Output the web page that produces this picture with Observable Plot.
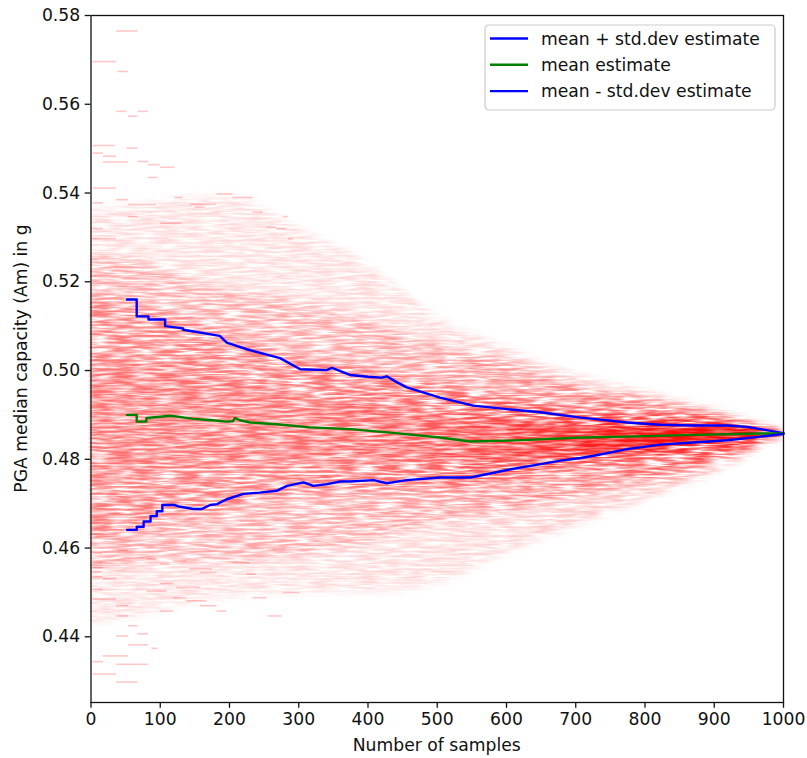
<!DOCTYPE html>
<html><head><meta charset="utf-8">
<script src="https://cdn.jsdelivr.net/npm/d3@7"></script>
<script src="https://cdn.jsdelivr.net/npm/@observablehq/plot@0.6"></script>
<style>body{margin:0;background:#fff} svg{display:block}</style>
</head><body><div id="chart"></div>
<script>
// ---- series ----
const upperN = [52,66,66,83,83,107,107,133,133,186,196,225,273,302,340,348,374,400,420,427,440,456,504,552,601,649,707,726,774,822,870,919,947,967,1000];
const upperV = [0.5160,0.5160,0.5122,0.5122,0.5115,0.5115,0.5100,0.5095,0.5092,0.5078,0.5063,0.5048,0.5028,0.5003,0.5001,0.5006,0.4990,0.4986,0.4984,0.4987,0.4975,0.4962,0.4939,0.4921,0.4913,0.4906,0.4894,0.4891,0.4883,0.4878,0.4876,0.4876,0.4873,0.4868,0.4859];
const meanN = [52,66,66,80,80,100,114,130,148,175,196,205,208,215,230,268,316,374,432,504,548,601,649,707,774,870,967,1000];
const meanV = [0.4900,0.4900,0.4885,0.4885,0.4893,0.4896,0.4898,0.4895,0.4891,0.4888,0.4885,0.4886,0.4893,0.4888,0.4883,0.4879,0.4872,0.4868,0.4860,0.4849,0.4840,0.4842,0.4845,0.4849,0.4851,0.4855,0.4858,0.4858];
const lowerN = [52,66,66,76,76,86,86,95,95,103,103,120,129,148,160,172,182,196,220,244,268,283,307,321,341,360,374,408,427,456,504,548,601,649,678,707,726,774,822,870,919,967,1000];
const lowerV = [0.4641,0.4641,0.4648,0.4648,0.4660,0.4660,0.4672,0.4672,0.4683,0.4683,0.4697,0.4697,0.4693,0.4688,0.4688,0.4697,0.4699,0.4710,0.4722,0.4725,0.4729,0.4740,0.4748,0.4740,0.4744,0.4750,0.4750,0.4753,0.4746,0.4753,0.4759,0.4759,0.4776,0.4789,0.4797,0.4803,0.4808,0.4823,0.4833,0.4838,0.4843,0.4851,0.4857];

// sample-trace cloud, read as nested envelopes
const bandN   = [0,50,100,150,200,300,400,500,600,700,800,900,1000];
const outerHi = [0.536,0.537,0.538,0.539,0.539,0.532,0.524,0.512,0.505,0.499,0.495,0.491,0.4858];
const outerLo = [0.443,0.444,0.446,0.448,0.449,0.450,0.450,0.452,0.459,0.465,0.471,0.477,0.4857];
const wideHi  = [0.526,0.525,0.5225,0.520,0.518,0.5157,0.511,0.5056,0.502,0.4966,0.4932,0.4898,0.4858];
const wideLo  = [0.455,0.455,0.457,0.457,0.457,0.4583,0.4617,0.466,0.4684,0.4718,0.4752,0.4797,0.4857];
const midHi   = [0.516,0.515,0.513,0.511,0.508,0.503,0.5005,0.4965,0.4935,0.491,0.4895,0.488,0.4858];
const midLo   = [0.462,0.463,0.466,0.467,0.469,0.472,0.473,0.4735,0.4755,0.4785,0.4808,0.483,0.4857];
const coreHi  = [0.503,0.502,0.501,0.4995,0.498,0.494,0.4925,0.490,0.4885,0.4875,0.487,0.4866,0.4858];
const coreLo  = [0.477,0.477,0.478,0.479,0.4795,0.480,0.4805,0.4795,0.4797,0.481,0.4826,0.4844,0.4857];

// isolated trace segments (start sample, end sample, value)
const dashA = [37,3,39,37,54,68,3,52,3,18,18,68,83,100,83,3,182,205,37,54,3,121,143,151,54,100,3,3,254,268,234,278,285,
               3,39,3,3,3,3,18,3,3,37,37,54,37,54,68,88,18,3,37,3,37,256,278,81,100,119,143,158,100,124,81,119,138,158,100,182,234,225,205,263];
const dashB = [68,37,54,52,68,83,35,68,18,37,54,83,100,121,97,37,205,234,54,95,18,133,182,165,68,131,18,37,268,282,249,285,292,
               17,54,17,17,17,17,37,17,37,54,54,68,54,83,83,97,54,18,83,37,68,276,302,95,114,138,176,182,119,158,110,138,167,182,119,196,254,239,229,282];
const dashV = [0.5765,0.5696,0.5674,0.5584,0.5573,0.5584,0.5507,0.5501,0.5490,0.5483,0.5470,0.5471,0.5464,0.5458,0.5435,0.5411,0.5398,0.5390,0.5385,0.5374,0.5378,0.5390,0.5375,0.5368,0.5347,0.5332,0.5320,0.5297,0.5323,0.5320,0.5357,0.5347,0.5297,
               0.4588,0.4595,0.4567,0.4556,0.4546,0.4535,0.4531,0.4507,0.4485,0.4470,0.4447,0.4425,0.4402,0.4382,0.4407,0.4374,0.4357,0.4344,0.4338,0.4316,0.4298,0.4447,0.4500,0.4576,0.4564,0.4571,0.4553,0.4545,0.4520,0.4511,0.4503,0.4488,0.4481,0.4470,0.4458,0.4458,0.4488,0.4541,0.4567,0.4597];

const xTicks = [0,100,200,300,400,500,600,700,800,900,1000];
const yTicks = [0.44,0.46,0.48,0.50,0.52,0.54,0.56,0.58];
const legendLabels = ["mean + std.dev estimate","mean estimate","mean - std.dev estimate"];
const legendColors = ["#0000ff","#008000","#0000ff"];

// gradient opacity stops along x (density grows as the traces converge)
const gradN = [0,300,500,700,800,900,1000];
const bandStyles = [
  {id:"bOuter", hi:outerHi, lo:outerLo, tex:true,  op:[0.14,0.14,0.16,0.20,0.25,0.30,0.38]},
  {id:"bWide",  hi:wideHi,  lo:wideLo,  tex:true,  op:[0.23,0.23,0.27,0.37,0.46,0.60,0.72]},
  {id:"bMid",   hi:midHi,   lo:midLo,   tex:true,  op:[0.25,0.28,0.35,0.52,0.70,0.90,1.00]},
  {id:"bCore",  hi:coreHi,  lo:coreLo,  tex:false, op:[0.08,0.09,0.12,0.32,0.60,0.85,0.95]}
];

const toRows = (ns, vs) => ns.map((n,i)=>({n, v:vs[i]}));
const upper = toRows(upperN, upperV), mean = toRows(meanN, meanV), lower = toRows(lowerN, lowerV);
const dashes = dashA.map((a,i)=>({a, b:dashB[i], v:dashV[i]}));

const W = 807, H = 758;
const FONT = "DejaVu Sans";
const FS = 17.2;

const marks = [];
bandStyles.forEach(b=>{
  const rows = bandN.map((n,i)=>({n, hi:b.hi[i], lo:b.lo[i]}));
  marks.push(Plot.areaY(rows, {x:"n", y1:"lo", y2:"hi", fill:`url(#${b.id})`, curve:"monotone-x"}));
});
marks.push(Plot.ruleY(dashes, {x1:"a", x2:"b", y:"v", stroke:"red", strokeOpacity:0.22, strokeWidth:1.6}));
marks.push(Plot.line(upper, {x:"n", y:"v", stroke:"#0000ff", strokeWidth:2.4}));
marks.push(Plot.line(mean,  {x:"n", y:"v", stroke:"#008000", strokeWidth:2.4}));
marks.push(Plot.line(lower, {x:"n", y:"v", stroke:"#0000ff", strokeWidth:2.4}));
marks.push(Plot.frame({stroke:"#111", strokeWidth:1.3}));
marks.push(Plot.axisX({ticks:xTicks, tickFormat:d=>String(d), tickSize:5.8, tickPadding:4, strokeWidth:1.3, label:null, fontSize:FS}));
marks.push(Plot.axisY({ticks:yTicks, tickFormat:d3.format(".2f"), tickSize:5.8, tickPadding:5, strokeWidth:1.3, label:null, fontSize:FS}));

const svg = Plot.plot({
  width: W, height: H,
  marginLeft: 90.5, marginRight: 24, marginTop: 15, marginBottom: 56,
  style: {fontFamily: FONT, fontSize: FS+"px", color:"#111", background:"#fff"},
  x: {domain:[0,1000]},
  y: {domain:[0.4252,0.58]},
  marks
});

const xs = svg.scale("x"), ys = svg.scale("y");
const L = xs.apply(0), R = xs.apply(1000), T = ys.apply(0.58), B = ys.apply(0.4252);
const s = d3.select(svg);
const defs = s.insert("defs", ":first-child");
bandStyles.forEach(b=>{
  const g = defs.append("linearGradient").attr("id", b.id)
    .attr("gradientUnits","userSpaceOnUse").attr("x1",L).attr("x2",R).attr("y1",0).attr("y2",0);
  gradN.forEach((n,j)=> g.append("stop").attr("offset", n/1000).attr("stop-color","#ff0000").attr("stop-opacity", b.op[j]));
});
// streaky texture like many overlapping faint step traces
const fs = defs.append("filter").attr("id","fStreak")
  .attr("x","-2%").attr("y","-10%").attr("width","104%").attr("height","120%");
fs.append("feGaussianBlur").attr("in","SourceGraphic").attr("stdDeviation","1.5 4").attr("result","bl");
fs.append("feTurbulence").attr("type","fractalNoise").attr("baseFrequency","0.045 0.45").attr("numOctaves",2).attr("seed",7).attr("result","nz");
fs.append("feColorMatrix").attr("in","nz").attr("type","matrix")
  .attr("values","0 0 0 0 0  0 0 0 0 0  0 0 0 0 0  0 0 0 2.4 -0.65").attr("result","mk");
fs.append("feComposite").attr("in","bl").attr("in2","mk").attr("operator","in");
const fb = defs.append("filter").attr("id","fBlur")
  .attr("x","-2%").attr("y","-10%").attr("width","104%").attr("height","120%");
fb.append("feGaussianBlur").attr("in","SourceGraphic").attr("stdDeviation","1.5 3");
bandStyles.forEach(b=>{
  s.selectAll(`path[fill="url(#${b.id})"], g[fill="url(#${b.id})"] > path`).attr("filter", b.tex ? "url(#fStreak)" : "url(#fBlur)");
});

// axis titles
s.append("text").text("Number of samples")
  .attr("x",(L+R)/2).attr("y",B+49).attr("text-anchor","middle")
  .attr("font-family",FONT).attr("font-size",FS).attr("fill","#111");
s.append("text").text("PGA median capacity (Am) in g")
  .attr("transform",`translate(27,${(T+B)/2}) rotate(-90)`).attr("text-anchor","middle")
  .attr("font-family",FONT).attr("font-size",FS).attr("fill","#111");

// legend
const lg = s.append("g").attr("transform",`translate(${R-298},${T+10})`);
lg.append("rect").attr("width",290).attr("height",85).attr("rx",4)
  .attr("fill","#fff").attr("fill-opacity",0.8).attr("stroke","#cccccc").attr("stroke-width",1.2);
legendLabels.forEach((t,i)=>{
  const y = 13.5 + i*26.3;
  lg.append("line").attr("x1",5).attr("x2",43).attr("y1",y).attr("y2",y)
    .attr("stroke",legendColors[i]).attr("stroke-width",2.4);
  lg.append("text").text(t).attr("x",56).attr("y",y).attr("dy","0.36em").attr("text-anchor","start")
    .attr("font-family",FONT).attr("font-size",FS).attr("fill","#111");
});

document.getElementById("chart").appendChild(svg);
</script>
</body></html>
